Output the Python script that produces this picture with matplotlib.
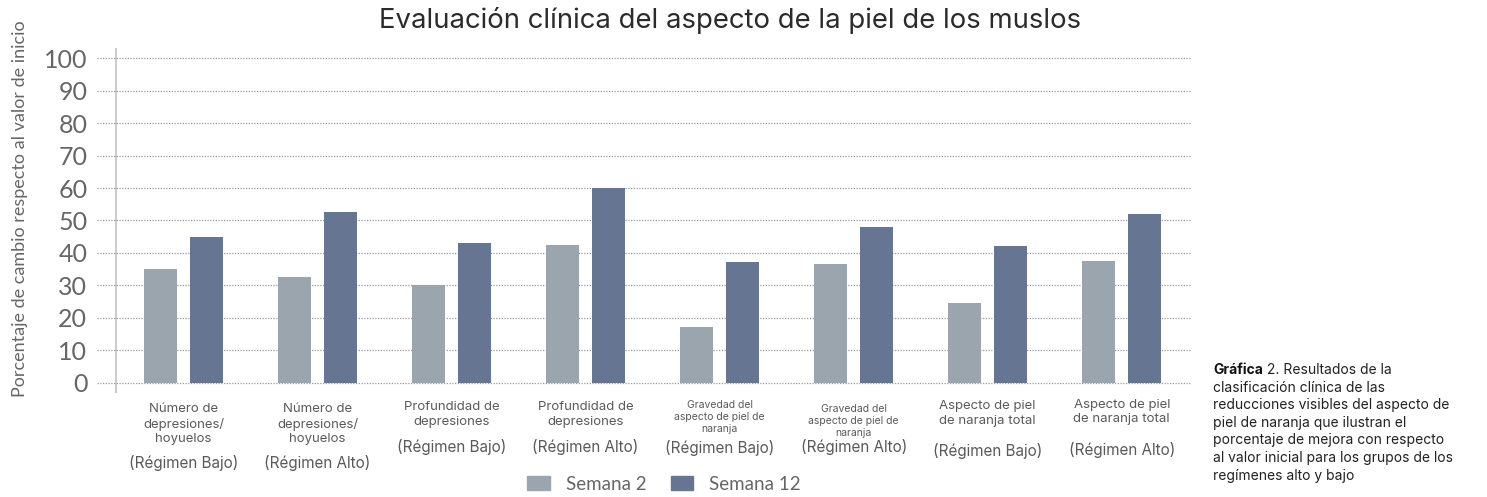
import matplotlib
matplotlib.use("Agg")
import matplotlib.pyplot as plt
import matplotlib.transforms as mtransforms
from matplotlib.patches import Patch

# data
descripciones = [
    "Número de\ndepresiones/\nhoyuelos",
    "Número de\ndepresiones/\nhoyuelos",
    "Profundidad de\ndepresiones",
    "Profundidad de\ndepresiones",
    "Gravedad del\naspecto de piel de\nnaranja",
    "Gravedad del\naspecto de piel de\nnaranja",
    "Aspecto de piel\nde naranja total",
    "Aspecto de piel\nde naranja total",
]
regimenes = ["(Régimen Bajo)", "(Régimen Alto)"] * 4
semana2 = [35, 32.5, 30, 42.5, 17.2, 36.6, 24.6, 37.5]
semana12 = [45, 52.6, 43.1, 60, 37.2, 48, 42.2, 52]
series_names = ["Semana 2", "Semana 12"]
yticks = list(range(0, 101, 10))

c_s2 = "#9aa5ae"
c_s12 = "#657592"
txt = "#5a5a5a"
W, H = 1487, 497

fig = plt.figure(figsize=(W / 100, H / 100), dpi=100, facecolor="white")
ax = fig.add_axes([97 / W, 1 - 393 / H, (1192 - 97) / W, (393 - 48) / H])

x = list(range(len(semana2)))
bw = 0.246
off = 0.172
ax.bar([i - off for i in x], semana2, width=bw, color=c_s2, zorder=3)
ax.bar([i + off for i in x], semana12, width=bw, color=c_s12, zorder=3)

ax.set_xlim(-0.646, 7.524)
ax.set_ylim(-3.1, 103.1)
for s in ax.spines.values():
    s.set_visible(False)
ax.axvline(-0.504, color="#cccccc", lw=1.5, zorder=1)
ax.set_yticks(yticks)
ax.set_xticks([])
ax.tick_params(axis="y", length=0, pad=7, labelsize=18, labelcolor="#666666")
for lab in ax.get_yticklabels():
    lab.set_fontfamily("Lato")
for v in yticks:
    ax.axhline(v, color="#9a9a9a", lw=0.9, ls=(0, (1, 1.2)), zorder=2)

fig.text(20 / W, 1 - 209 / H, "Porcentaje de cambio respecto al valor de inicio",
         rotation=90, ha="center", va="center", fontsize=13, color="#666666",
         family="Lato")

fig.text(730 / W, 1 - 21 / H, "Evaluación clínica del aspecto de la piel de los muslos",
         ha="center", va="center", fontsize=19.8, color="#2b2b2b", family="Inter")

# category labels below the axis
tr = mtransforms.blended_transform_factory(ax.transData, fig.transFigure)
desc_y = [424, 424, 414.5, 414.5, 417, 421.5, 413.5, 412]
desc_fs = [9.5, 9.5, 9.5, 9.5, 7.5, 7.5, 9.5, 9.5]
reg_y = [463, 463, 447, 447, 448, 447, 451, 450]
for i in x:
    ax.text(i, 1 - desc_y[i] / H, descripciones[i], transform=tr, ha="center",
            va="center", fontsize=desc_fs[i], color=txt, family="Inter",
            linespacing=1.3 if desc_fs[i] > 8 else 1.25)
    ax.text(i, 1 - reg_y[i] / H, regimenes[i], transform=tr, ha="center",
            va="center", fontsize=11, color=txt, family="Inter")

handles = [Patch(color=c_s2), Patch(color=c_s12)]
fig.legend(handles, series_names, loc="center", bbox_to_anchor=(664 / W, 1 - 484 / H),
           ncol=2, frameon=False, handlelength=1.2, handleheight=0.8,
           columnspacing=1.3, handletextpad=0.85,
           prop={"family": "Lato", "size": 13.5}, labelcolor="#666666")

# caption on the right
cap_lines = [
    " 2. Resultados de la",
    "clasificación clínica de las",
    "reducciones visibles del aspecto de",
    "piel de naranja que ilustran el",
    "porcentaje de mejora con respecto",
    "al valor inicial para los grupos de los",
    "regímenes alto y bajo",
]
cx = 1213 / W
y0 = 370
dy = 17.6
bold = fig.text(cx, 1 - y0 / H, "Gráfica", ha="left", va="center", fontsize=10,
                fontweight="bold", color="#111111", family="Inter")
r = fig.canvas.get_renderer()
bw_px = bold.get_window_extent(renderer=r).width
fig.text(cx + bw_px / W, 1 - y0 / H, cap_lines[0], ha="left", va="center",
         fontsize=10, color="#222222", family="Inter")
for k, line in enumerate(cap_lines[1:], start=1):
    fig.text(cx, 1 - (y0 + k * dy) / H, line, ha="left", va="center",
             fontsize=10, color="#222222", family="Inter")

fig.savefig("out.png", dpi=100, facecolor="white")
